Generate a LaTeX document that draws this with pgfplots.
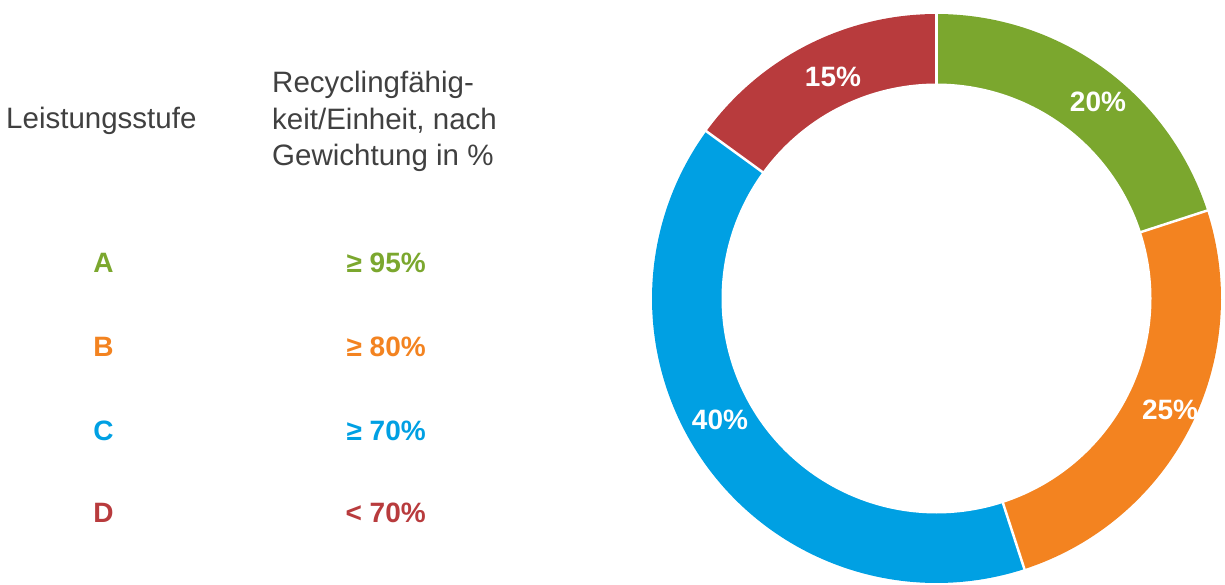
\documentclass[border=0pt]{standalone}
\usepackage{pgfplots}
\pgfplotsset{compat=1.18}
\usepgfplotslibrary{polar}
\usepackage{fontspec}
\setmainfont{Liberation Sans}
\definecolor{cA}{RGB}{123,167,46}
\definecolor{cB}{RGB}{243,131,32}
\definecolor{cC}{RGB}{0,160,227}
\definecolor{cD}{RGB}{184,59,61}
\definecolor{txt}{RGB}{64,64,64}
\newcommand{\hfont}{\fontsize{29.5}{34}\selectfont}
\newcommand{\bfont}{\bfseries\fontsize{28}{34}\selectfont}
\begin{document}
\begin{tikzpicture}[x=1pt,y=1pt]
\useasboundingbox (0,0) rectangle (1225,585);
% left table
\node[anchor=base west, inner sep=0, text=txt, font=\hfont] at (6,456) {Leistungsstufe};
\node[anchor=base west, inner sep=0, text=txt, font=\hfont] at (272,492) {Recyclingfähig-};
\node[anchor=base west, inner sep=0, text=txt, font=\hfont] at (272,455.5) {keit/Einheit, nach};
\node[anchor=base west, inner sep=0, text=txt, font=\hfont] at (272,419) {Gewichtung in \%};
\node[anchor=base, inner sep=0, text=cA, font=\bfont] at (103.5,312) {A};
\node[anchor=base, inner sep=0, text=cB, font=\bfont] at (103.5,228) {B};
\node[anchor=base, inner sep=0, text=cC, font=\bfont] at (103.5,144) {C};
\node[anchor=base, inner sep=0, text=cD, font=\bfont] at (103.5,62) {D};
\node[anchor=base east, inner sep=0, text=cA, font=\bfont] at (426,312) {≥ 95\%};
\node[anchor=base east, inner sep=0, text=cB, font=\bfont] at (426,228) {≥ 80\%};
\node[anchor=base east, inner sep=0, text=cC, font=\bfont] at (426,144) {≥ 70\%};
\node[anchor=base east, inner sep=0, text=cD, font=\bfont] at (426,62) {< 70\%};
% donut: A 20%, B 25%, C 40%, D 15% (clockwise from top)
\begin{polaraxis}[at={(936.5pt,286.5pt)}, anchor=center, hide axis,
  scale only axis, width=569pt, height=569pt,
  xmin=0, xmax=360, ymin=0, ymax=284.5, clip=false]
\addplot[draw=none, fill=cA, domain=18:90, samples=60] {284.5} -- (axis cs:0,0) -- cycle;
\addplot[draw=none, fill=cB, domain=-72:18, samples=70] {284.5} -- (axis cs:0,0) -- cycle;
\addplot[draw=none, fill=cC, domain=-216:-72, samples=110] {284.5} -- (axis cs:0,0) -- cycle;
\addplot[draw=none, fill=cD, domain=-270:-216, samples=45] {284.5} -- (axis cs:0,0) -- cycle;
\addplot[draw=none, fill=white, domain=0:360, samples=241] {215};
\addplot[white, line width=2.5pt] coordinates {(90,200) (90,290)};
\addplot[white, line width=2.5pt] coordinates {(18,200) (18,290)};
\addplot[white, line width=2.5pt] coordinates {(-72,200) (-72,290)};
\addplot[white, line width=2.5pt] coordinates {(-216,200) (-216,290)};
\node[text=white, font=\bfont] at (axis cs:50.6,254.4) {20\%};
\node[text=white, font=\bfont] at (axis cs:334.5,258.8) {25\%};
\node[text=white, font=\bfont] at (axis cs:209.3,248.3) {40\%};
\node[text=white, font=\bfont] at (axis cs:115.05,244.5) {15\%};
\end{polaraxis}
\end{tikzpicture}
\end{document}
